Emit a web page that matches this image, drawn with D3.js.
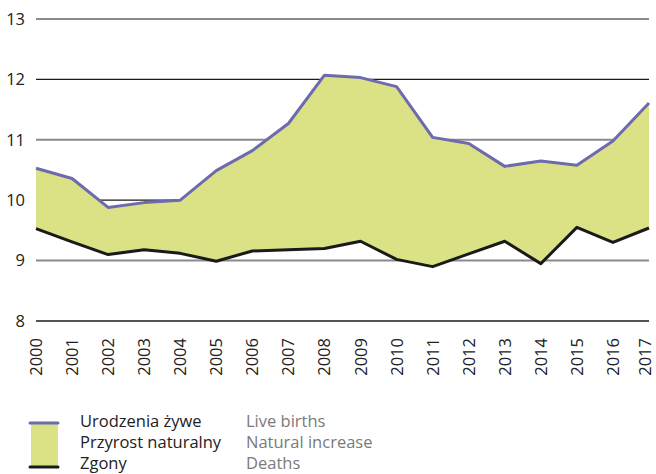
<!DOCTYPE html>
<html>
<head>
<meta charset="utf-8">
<script src="https://cdn.jsdelivr.net/npm/d3@7"></script>
<style>
  body { margin: 0; background: #fff; }
  text { font-family: "Open Sans", "Noto Sans", sans-serif; }
</style>
</head>
<body>
<svg id="chart" width="656" height="474"></svg>
<script>
var years = ['2000','2001','2002','2003','2004','2005','2006','2007','2008',
             '2009','2010','2011','2012','2013','2014','2015','2016','2017'];
var births = [10.53, 10.36, 9.88, 9.96, 10.0, 10.49, 10.82, 11.27, 12.07,
              12.03, 11.88, 11.04, 10.94, 10.56, 10.65, 10.58, 10.98, 11.61];
var deaths = [9.53, 9.31, 9.10, 9.18, 9.12, 8.99, 9.16, 9.18, 9.20,
              9.32, 9.02, 8.90, 9.11, 9.32, 8.95, 9.55, 9.30, 9.54];
var yTicks = [8, 9, 10, 11, 12, 13];

var legendPl = ['Urodzenia żywe', 'Przyrost naturalny', 'Zgony'];
var legendEn = ['Live births', 'Natural increase', 'Deaths'];

var svg = d3.select('#chart');

var x = d3.scalePoint().domain(years).range([36, 649]);
var y = d3.scaleLinear().domain([8, 13]).range([321, 19]);

var data = years.map(function(d, i) { return {year: d, b: births[i], dth: deaths[i]}; });

// gridlines: odd values grey, even values black
svg.append('g').selectAll('line')
   .data(yTicks)
   .enter().append('line')
   .attr('x1', 36).attr('x2', 649)
   .attr('y1', function(d) { return y(d); })
   .attr('y2', function(d) { return y(d); })
   .attr('stroke', function(d) { return d % 2 ? '#8a8a8a' : '#1a1a1a'; })
   .attr('stroke-width', function(d) { return d % 2 ? 2 : 1.3; });

// y labels
svg.append('g').selectAll('text')
   .data(yTicks)
   .enter().append('text')
   .attr('x', 25)
   .attr('y', function(d) { return y(d); })
   .attr('dy', '0.35em')
   .attr('text-anchor', 'end')
   .attr('font-size', 16.5)
   .attr('fill', '#222')
   .text(function(d) { return d; });

// natural increase area
var area = d3.area()
    .x(function(d) { return x(d.year); })
    .y0(function(d) { return y(d.dth); })
    .y1(function(d) { return y(d.b); });

svg.append('path')
   .datum(data)
   .attr('d', area)
   .attr('fill', '#dbe286');

var lineB = d3.line().x(function(d) { return x(d.year); }).y(function(d) { return y(d.b); });
var lineD = d3.line().x(function(d) { return x(d.year); }).y(function(d) { return y(d.dth); });

svg.append('path').datum(data).attr('d', lineB)
   .attr('fill', 'none').attr('stroke', '#6d6aae').attr('stroke-width', 3)
   .attr('stroke-linejoin', 'round');
svg.append('path').datum(data).attr('d', lineD)
   .attr('fill', 'none').attr('stroke', '#1a1a1a').attr('stroke-width', 3)
   .attr('stroke-linejoin', 'round');

// x labels, rotated (last one pulled in so it fits)
svg.append('g').selectAll('text')
   .data(years)
   .enter().append('text')
   .attr('transform', function(d) { return 'translate(' + Math.min(x(d) + 6, 651) + ',338) rotate(-90)'; })
   .attr('text-anchor', 'end')
   .attr('font-size', 16.5)
   .attr('fill', '#222')
   .text(function(d) { return d; });

// legend
var lg = svg.append('g');
lg.append('rect').attr('x', 31).attr('y', 423).attr('width', 27).attr('height', 44).attr('fill', '#dbe286');
lg.append('line').attr('x1', 30).attr('x2', 58).attr('y1', 423).attr('y2', 423)
  .attr('stroke', '#6d6aae').attr('stroke-width', 3).attr('stroke-linecap', 'round');
lg.append('line').attr('x1', 30).attr('x2', 58).attr('y1', 467).attr('y2', 467)
  .attr('stroke', '#1a1a1a').attr('stroke-width', 3).attr('stroke-linecap', 'round');

lg.selectAll('text.pl')
  .data(legendPl)
  .enter().append('text')
  .attr('class', 'pl')
  .attr('x', 80)
  .attr('y', function(d, i) { return 427 + i * 21; })
  .attr('font-size', 16.5)
  .attr('fill', '#222')
  .text(function(d) { return d; });

lg.selectAll('text.en')
  .data(legendEn)
  .enter().append('text')
  .attr('class', 'en')
  .attr('x', 246)
  .attr('y', function(d, i) { return 427 + i * 21; })
  .attr('font-size', 16.5)
  .attr('fill', '#7a7a7a')
  .text(function(d) { return d; });
</script>
</body>
</html>
